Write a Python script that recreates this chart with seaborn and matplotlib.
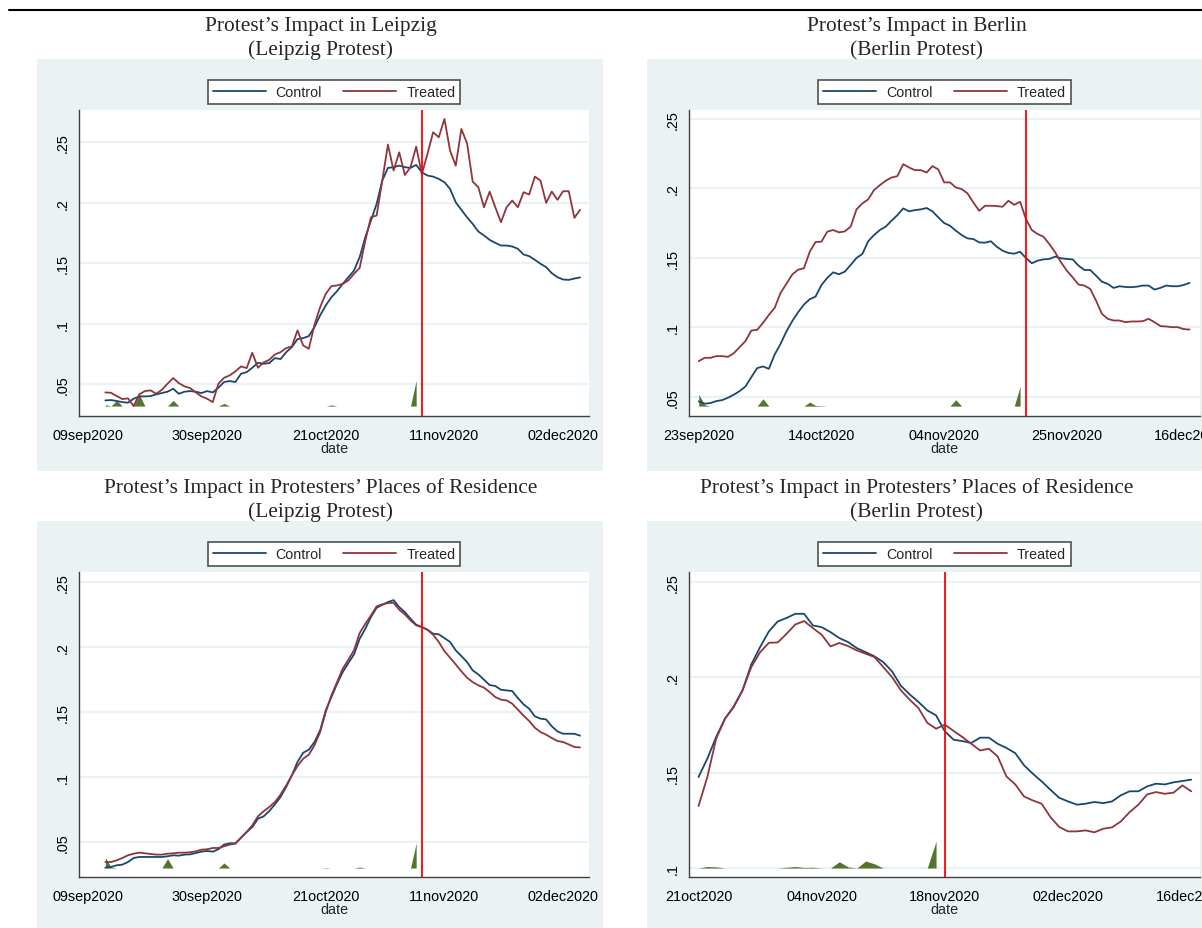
import matplotlib
matplotlib.use('Agg')
import matplotlib.pyplot as plt
import matplotlib.dates as mdates
from matplotlib.patches import Rectangle
from matplotlib.lines import Line2D
from matplotlib.ticker import FuncFormatter
import pandas as pd
import seaborn as sns

# ---- data ----
leipzig_dates = pd.date_range('2020-09-12', '2020-12-05')
berlin_dates = pd.date_range('2020-09-23', '2020-12-16')
berlin_res_dates = pd.date_range('2020-10-21', '2020-12-16')

tl_control = [0.0365, 0.0368, 0.0360, 0.0351, 0.0346, 0.0379, 0.0398, 0.0398, 0.0401, 0.0415,
              0.0426, 0.0437, 0.0461, 0.0420, 0.0437, 0.0442, 0.0437, 0.0426, 0.0442, 0.0431,
              0.0470, 0.0517, 0.0525, 0.0517, 0.0585, 0.0599, 0.0635, 0.0676, 0.0668, 0.0674,
              0.0715, 0.0707, 0.0764, 0.0806, 0.0872, 0.0880, 0.0897, 0.0971, 0.1068, 0.1150,
              0.1219, 0.1269, 0.1329, 0.1384, 0.1439, 0.1550, 0.1715, 0.1853, 0.1990, 0.2183,
              0.2288, 0.2294, 0.2307, 0.2294, 0.2288, 0.2313, 0.2252, 0.2225, 0.2216, 0.2197,
              0.2170, 0.2114, 0.2004, 0.1941, 0.1880, 0.1825, 0.1762, 0.1729, 0.1693, 0.1668,
              0.1646, 0.1646, 0.1638, 0.1619, 0.1572, 0.1558, 0.1528, 0.1495, 0.1467, 0.1417,
              0.1384, 0.1365, 0.1362, 0.1373, 0.1382]
tl_treated = [0.0431, 0.0428, 0.0401, 0.0376, 0.0382, 0.0318, 0.0415, 0.0442, 0.0448, 0.0420,
              0.0453, 0.0503, 0.0550, 0.0508, 0.0481, 0.0467, 0.0431, 0.0398, 0.0379, 0.0351,
              0.0503, 0.0552, 0.0572, 0.0605, 0.0646, 0.0632, 0.0759, 0.0635, 0.0679, 0.0701,
              0.0745, 0.0764, 0.0798, 0.0811, 0.0944, 0.0820, 0.0792, 0.0990, 0.1136, 0.1247,
              0.1310, 0.1316, 0.1329, 0.1357, 0.1412, 0.1461, 0.1687, 0.1880, 0.1894, 0.2183,
              0.2481, 0.2266, 0.2417, 0.2230, 0.2294, 0.2464, 0.2238, 0.2404, 0.2583, 0.2541,
              0.2693, 0.2431, 0.2307, 0.2610, 0.2492, 0.2175, 0.2128, 0.1963, 0.2092, 0.1963,
              0.1839, 0.1963, 0.2018, 0.1963, 0.2087, 0.2068, 0.2216, 0.2183, 0.1999, 0.2092,
              0.2024, 0.2095, 0.2095, 0.1875, 0.1941]

tr_control = [0.0469, 0.0452, 0.0457, 0.0471, 0.0478, 0.0495, 0.0517, 0.0543, 0.0576, 0.0643,
              0.0708, 0.0720, 0.0703, 0.0806, 0.0882, 0.0971, 0.1045, 0.1109, 0.1164, 0.1203,
              0.1222, 0.1305, 0.1356, 0.1396, 0.1382, 0.1401, 0.1449, 0.1499, 0.1528, 0.1619,
              0.1664, 0.1700, 0.1724, 0.1767, 0.1807, 0.1855, 0.1834, 0.1843, 0.1848, 0.1858,
              0.1834, 0.1791, 0.1750, 0.1731, 0.1695, 0.1664, 0.1640, 0.1635, 0.1611, 0.1609,
              0.1619, 0.1580, 0.1552, 0.1535, 0.1530, 0.1544, 0.1499, 0.1461, 0.1480, 0.1489,
              0.1492, 0.1509, 0.1497, 0.1492, 0.1489, 0.1444, 0.1413, 0.1413, 0.1372, 0.1329,
              0.1313, 0.1284, 0.1296, 0.1291, 0.1289, 0.1293, 0.1301, 0.1301, 0.1272, 0.1284,
              0.1301, 0.1296, 0.1296, 0.1305, 0.1320]
tr_treated = [0.0758, 0.0782, 0.0782, 0.0794, 0.0794, 0.0789, 0.0815, 0.0859, 0.0902, 0.0978,
              0.0983, 0.1033, 0.1090, 0.1141, 0.1248, 0.1313, 0.1380, 0.1415, 0.1425, 0.1544,
              0.1614, 0.1616, 0.1688, 0.1700, 0.1683, 0.1690, 0.1724, 0.1848, 0.1891, 0.1920,
              0.1987, 0.2022, 0.2054, 0.2077, 0.2087, 0.2173, 0.2149, 0.2130, 0.2130, 0.2113,
              0.2159, 0.2135, 0.2042, 0.2042, 0.2006, 0.1994, 0.1963, 0.1898, 0.1838, 0.1874,
              0.1874, 0.1872, 0.1867, 0.1910, 0.1881, 0.1903, 0.1779, 0.1700, 0.1671, 0.1652,
              0.1599, 0.1540, 0.1468, 0.1408, 0.1360, 0.1308, 0.1301, 0.1277, 0.1193, 0.1098,
              0.1062, 0.1050, 0.1050, 0.1038, 0.1043, 0.1043, 0.1045, 0.1062, 0.1038, 0.1010,
              0.1007, 0.1002, 0.1002, 0.0988, 0.0985]

bl_control = [0.0303, 0.0308, 0.0321, 0.0326, 0.0346, 0.0377, 0.0385, 0.0385, 0.0385, 0.0385,
              0.0385, 0.0390, 0.0398, 0.0395, 0.0403, 0.0405, 0.0415, 0.0426, 0.0431, 0.0426,
              0.0444, 0.0480, 0.0490, 0.0490, 0.0533, 0.0577, 0.0615, 0.0679, 0.0697, 0.0738,
              0.0789, 0.0846, 0.0923, 0.1012, 0.1115, 0.1186, 0.1209, 0.1268, 0.1358, 0.1512,
              0.1614, 0.1716, 0.1806, 0.1875, 0.1942, 0.2062, 0.2139, 0.2229, 0.2300, 0.2323,
              0.2344, 0.2359, 0.2305, 0.2267, 0.2216, 0.2170, 0.2152, 0.2131, 0.2101, 0.2096,
              0.2067, 0.2037, 0.1973, 0.1929, 0.1883, 0.1819, 0.1788, 0.1747, 0.1706, 0.1699,
              0.1670, 0.1665, 0.1660, 0.1606, 0.1558, 0.1524, 0.1466, 0.1448, 0.1442, 0.1389,
              0.1350, 0.1332, 0.1332, 0.1332, 0.1317]
bl_treated = [0.0346, 0.0346, 0.0359, 0.0377, 0.0398, 0.0410, 0.0418, 0.0413, 0.0408, 0.0403,
              0.0403, 0.0410, 0.0413, 0.0418, 0.0418, 0.0421, 0.0428, 0.0441, 0.0444, 0.0454,
              0.0454, 0.0467, 0.0480, 0.0487, 0.0533, 0.0577, 0.0628, 0.0697, 0.0736, 0.0769,
              0.0807, 0.0864, 0.0935, 0.1012, 0.1084, 0.1140, 0.1171, 0.1243, 0.1345, 0.1499,
              0.1627, 0.1729, 0.1832, 0.1901, 0.1973, 0.2106, 0.2177, 0.2241, 0.2311, 0.2326,
              0.2336, 0.2339, 0.2285, 0.2249, 0.2203, 0.2165, 0.2152, 0.2131, 0.2093, 0.2037,
              0.1967, 0.1916, 0.1865, 0.1811, 0.1763, 0.1729, 0.1704, 0.1686, 0.1652, 0.1614,
              0.1594, 0.1588, 0.1563, 0.1517, 0.1471, 0.1430, 0.1378, 0.1345, 0.1325, 0.1299,
              0.1276, 0.1268, 0.1250, 0.1230, 0.1227]

br_control = [0.1477, 0.1573, 0.1686, 0.1782, 0.1847, 0.1931, 0.2067, 0.2158, 0.2240, 0.2292,
              0.2310, 0.2332, 0.2332, 0.2271, 0.2262, 0.2236, 0.2205, 0.2184, 0.2152, 0.2131,
              0.2109, 0.2079, 0.2030, 0.1955, 0.1910, 0.1870, 0.1826, 0.1800, 0.1716, 0.1672,
              0.1665, 0.1655, 0.1683, 0.1683, 0.1651, 0.1629, 0.1602, 0.1538, 0.1494, 0.1454,
              0.1410, 0.1368, 0.1349, 0.1332, 0.1337, 0.1346, 0.1340, 0.1349, 0.1381, 0.1402,
              0.1402, 0.1428, 0.1442, 0.1438, 0.1449, 0.1456, 0.1463]
br_treated = [0.1325, 0.1477, 0.1677, 0.1782, 0.1843, 0.1931, 0.2053, 0.2131, 0.2180, 0.2182,
              0.2227, 0.2276, 0.2294, 0.2257, 0.2222, 0.2161, 0.2179, 0.2163, 0.2140, 0.2123,
              0.2105, 0.2053, 0.2000, 0.1931, 0.1882, 0.1838, 0.1761, 0.1730, 0.1751, 0.1718,
              0.1686, 0.1651, 0.1616, 0.1625, 0.1585, 0.1480, 0.1438, 0.1375, 0.1354, 0.1337,
              0.1267, 0.1215, 0.1192, 0.1192, 0.1197, 0.1187, 0.1206, 0.1213, 0.1244, 0.1293,
              0.1332, 0.1386, 0.1398, 0.1389, 0.1395, 0.1433, 0.1402]

# green area (pre-treatment days): baseline level plus the days that stick out
tl_green_span = ('2020-09-12', '2020-11-06')
tl_green_base = 0.0318
tl_green_dates = ['2020-09-12', '2020-09-14', '2020-09-18', '2020-09-24', '2020-10-03',
                  '2020-10-22', '2020-11-06']
tl_green_vals = [0.0330, 0.0365, 0.0415, 0.0365, 0.0340, 0.0328, 0.0531]

tr_green_span = ('2020-09-23', '2020-11-17')
tr_green_base = 0.0435
tr_green_dates = ['2020-09-23', '2020-09-24', '2020-10-04', '2020-10-12', '2020-10-13',
                  '2020-10-14', '2020-11-06', '2020-11-17']
tr_green_vals = [0.0519, 0.0445, 0.0488, 0.0464, 0.0440, 0.0438, 0.0481, 0.0576]

bl_green_span = ('2020-09-12', '2020-11-06')
bl_green_base = 0.0300
bl_green_dates = ['2020-09-12', '2020-09-13', '2020-09-23', '2020-10-03', '2020-10-21',
                  '2020-10-27', '2020-11-06']
bl_green_vals = [0.0380, 0.0308, 0.0372, 0.0339, 0.0303, 0.0308, 0.0492]

br_green_span = ('2020-10-21', '2020-11-17')
br_green_base = 0.1000
br_green_dates = ['2020-10-22', '2020-10-23', '2020-10-31', '2020-11-01', '2020-11-02',
                  '2020-11-03', '2020-11-06', '2020-11-07', '2020-11-09', '2020-11-10',
                  '2020-11-17']
br_green_vals = [0.1008, 0.1006, 0.1004, 0.1008, 0.1003, 0.1004, 0.1033, 0.1006, 0.1037,
                 0.1022, 0.1141]

leipzig_protest = '2020-11-07'
berlin_protest = '2020-11-18'

leipzig_ticks = ['2020-09-09', '2020-09-30', '2020-10-21', '2020-11-11', '2020-12-02']
berlin_ticks = ['2020-09-23', '2020-10-14', '2020-11-04', '2020-11-25', '2020-12-16']
berlin_res_ticks = ['2020-10-21', '2020-11-04', '2020-11-18', '2020-12-02', '2020-12-16']
yticks_low = [0.05, 0.10, 0.15, 0.20, 0.25]
yticks_high = [0.10, 0.15, 0.20, 0.25]

# ---- style ----
NAVY = '#1A476F'
MAROON = '#90353B'
GREEN = '#55752F'
BG = '#EAF2F3'
AXC = '#404040'

sns.set_style('white')
plt.rcParams['font.family'] = ['Liberation Sans', 'DejaVu Sans']
SERIF = ['Liberation Serif', 'DejaVu Serif']

W, H = 1202, 929
fig = plt.figure(figsize=(W / 100, H / 100), dpi=100)


def fig_rect(x0, y0, x1, y1):
    return [x0 / W, 1 - y1 / H, (x1 - x0) / W, (y1 - y0) / H]


def stata_label(v, pos):
    s = ('%g' % v)
    return s[1:] if s.startswith('0.') else s


def date_label(v, pos):
    return mdates.num2date(v).strftime('%d%b%Y').lower()


def panel(box, dates, control, treated, gspan, gbase, gdates, gvals, protest,
          xlim, xticks, ylim, yticks):
    ax = fig.add_axes(fig_rect(*box))
    ax.set_facecolor('white')

    gidx = pd.date_range(*gspan)
    green = pd.Series(gvals, index=pd.to_datetime(gdates)).reindex(gidx, fill_value=gbase)
    ax.fill_between(green.index, gbase, green.values, color=GREEN, linewidth=0, zorder=2)

    sns.lineplot(x=dates, y=control, color=NAVY, lw=1.3, ax=ax, label='Control', zorder=3)
    sns.lineplot(x=dates, y=treated, color=MAROON, lw=1.3, ax=ax, label='Treated', zorder=3)
    ax.axvline(pd.Timestamp(protest), color='red', lw=1.3, zorder=4)

    ax.set_xlim(pd.Timestamp(xlim[0]), pd.Timestamp(xlim[1]))
    ax.set_ylim(*ylim)
    ax.set_xticks(pd.to_datetime(xticks))
    ax.xaxis.set_major_formatter(FuncFormatter(date_label))
    ax.set_yticks(yticks)
    ax.yaxis.set_major_formatter(FuncFormatter(stata_label))
    ax.yaxis.grid(True, color=BG, lw=1.6)
    ax.xaxis.grid(False)
    ax.set_axisbelow(True)

    for s in ['top', 'right']:
        ax.spines[s].set_visible(False)
    for s in ['left', 'bottom']:
        ax.spines[s].set_color(AXC)
        ax.spines[s].set_linewidth(1.0)

    ax.tick_params(axis='x', length=4.3, width=1.0, color=AXC, pad=4.5,
                   labelsize=10.4, labelcolor='black')
    ax.tick_params(axis='y', length=3.6, width=1.0, color=AXC, pad=3,
                   labelsize=10.4, labelcolor='black')
    for lab in ax.get_yticklabels():
        lab.set_rotation(90)
        lab.set_va('center')
        lab.set_ha('right')
    ax.set_xlabel('date', fontsize=10.4, labelpad=-0.8)
    ax.set_ylabel('')

    leg = ax.legend(loc='center', bbox_to_anchor=(0.5, 1 + 18 / 306), ncol=2,
                    frameon=True, fancybox=False, framealpha=1, edgecolor='#505050',
                    handlelength=3.7, handletextpad=0.7, columnspacing=1.5,
                    borderpad=0.35, fontsize=10.3)
    leg.get_frame().set_linewidth(1.2)
    for line in leg.get_lines():
        line.set_linewidth(1.3)
    return ax


# panel backgrounds
for box in [(37, 60, 603, 472), (647, 60, 1215, 472),
            (37, 522, 603, 935), (647, 522, 1215, 935)]:
    x0, y0, x1, y1 = box
    fig.add_artist(Rectangle((x0 / W, 1 - y1 / H), (x1 - x0) / W, (y1 - y0) / H,
                             transform=fig.transFigure, facecolor=BG,
                             edgecolor='none', zorder=-5))

# top rule
fig.add_artist(Line2D([9 / W, 1], [1 - 11 / H, 1 - 11 / H], transform=fig.transFigure,
                      color='black', lw=1.5))

# titles
titles = [
    (320.5, 31, 55, 'Protest\u2019s Impact in Leipzig', '(Leipzig Protest)'),
    (917, 31, 55, 'Protest\u2019s Impact in Berlin', '(Berlin Protest)'),
    (320.5, 493, 517, 'Protest\u2019s Impact in Protesters\u2019 Places of Residence',
     '(Leipzig Protest)'),
    (917, 493, 517, 'Protest\u2019s Impact in Protesters\u2019 Places of Residence',
     '(Berlin Protest)'),
]
for xc, y1, y2, t1, t2 in titles:
    fig.text(xc / W, 1 - y1 / H, t1, ha='center', va='baseline', family=SERIF, size=15.4)
    fig.text(xc / W, 1 - y2 / H, t2, ha='center', va='baseline', family=SERIF, size=15.4)

panel((79, 111, 589, 417), leipzig_dates, tl_control, tl_treated,
      tl_green_span, tl_green_base, tl_green_dates, tl_green_vals, leipzig_protest,
      ('2020-09-07 08:00', '2020-12-06 14:00'), leipzig_ticks,
      (0.0236, 0.2767), yticks_low)

panel((689, 111, 1200, 417), berlin_dates, tr_control, tr_treated,
      tr_green_span, tr_green_base, tr_green_dates, tr_green_vals, berlin_protest,
      ('2020-09-21 08:00', '2020-12-17 19:00'), berlin_ticks,
      (0.0364, 0.2562), yticks_low)

panel((79, 573, 589, 878), leipzig_dates, bl_control, bl_treated,
      bl_green_span, bl_green_base, bl_green_dates, bl_green_vals, leipzig_protest,
      ('2020-09-07 08:00', '2020-12-06 14:00'), leipzig_ticks,
      (0.0231, 0.2575), yticks_low)

panel((689, 573, 1200, 878), berlin_res_dates, br_control, br_treated,
      br_green_span, br_green_base, br_green_dates, br_green_vals, berlin_protest,
      ('2020-10-19 22:00', '2020-12-17 00:00'), berlin_res_ticks,
      (0.0953, 0.2551), yticks_high)

fig.savefig('out.png', dpi=100)
